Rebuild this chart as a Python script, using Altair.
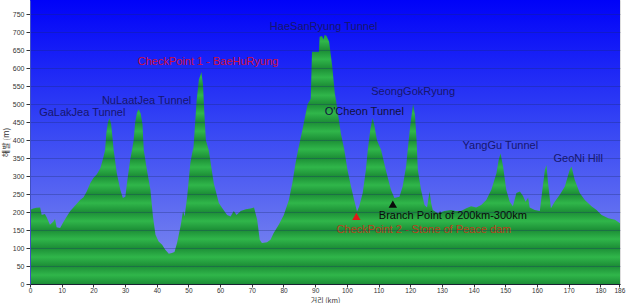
import altair as alt
import pandas as pd

# Elevation profile: distance (km) and height above sea level (m)
km = [0, 1.0, 2.0, 3.2, 3.7, 4.7, 5.3, 6.3, 7.4, 7.9, 8.4, 9.5, 10.5, 11.6, 12.7, 13.7,
      15.8, 16.9, 17.9, 19.0, 20.0, 21.1, 22.2, 23.2, 23.7, 24.1, 24.6, 25.1, 25.6, 26.0,
      26.4, 27.4, 28.5, 29.3, 30.1, 30.6, 31.6, 32.2, 32.7, 33.2, 33.8, 34.3, 34.9, 35.5,
      35.9, 36.9, 38.0, 38.8, 39.6, 40.6, 41.7, 42.7, 43.8, 44.8, 45.6, 46.4, 47.5, 48.3,
      48.8, 49.6, 50.6, 51.2, 51.6, 52.6, 53.3, 54.1, 54.6, 55.0, 55.5, 56.4, 58.0, 59.6,
      60.7, 62.2, 63.3, 64.3, 65.2, 66.5, 68.1, 69.6, 70.7, 71.7, 72.5, 73.2, 74.8, 75.9,
      76.9, 78.5, 80.1, 81.7, 82.8, 83.8, 84.6, 86.0, 87.6, 88.6, 89.0, 91.2, 91.4, 92.2,
      92.6, 93.0, 93.6, 94.4, 94.9, 95.4, 96.2, 96.5, 98.1, 99.2, 100.2, 101.3, 102.3,
      103.2, 103.9, 105.0, 106.0, 106.6, 107.4, 108.1, 108.6, 109.5, 110.8, 112.3, 113.9,
      115.0, 116.6, 117.6, 118.7, 119.2, 120.0, 120.9, 121.5, 122.0, 122.4, 123.4, 124.5,
      125.3, 126.1, 126.6, 127.1, 128.7, 130.8, 132.9, 134.4, 136.0, 137.7, 139.2, 140.8,
      142.4, 144.0, 145.6, 147.2, 147.9, 148.5, 149.3, 150.3, 151.4, 152.4, 153.5, 154.6,
      155.6, 156.4, 157.2, 157.7, 159.3, 160.9, 161.7, 162.5, 163.0, 163.5, 164.4, 165.6,
      167.2, 168.8, 170.3, 170.9, 171.9, 173.5, 175.1, 177.2, 178.8, 180.4, 182.5, 184.6,
      186.2]
elev = [206, 210, 212, 213, 192, 195, 185, 165, 174, 181, 158, 156, 172, 188, 203, 213,
        234, 241, 257, 280, 295, 305, 322, 354, 373, 420, 450, 461, 445, 410,
        373, 308, 262, 239, 243, 280, 345, 373, 400, 450, 478, 486, 475, 445,
        373, 317, 262, 188, 137, 118, 109, 95, 84, 86, 89, 114, 160, 203,
        188, 243, 336, 365, 380, 512, 568, 590, 555, 480, 400, 373, 280, 225,
        211, 192, 188, 203, 192, 203, 208, 210, 213, 179, 123, 114, 116, 123,
        142, 165, 192, 234, 281, 336, 373, 430, 500, 515, 646, 646, 688, 690,
        680, 693, 690, 674, 640, 604, 530, 515, 419, 373, 317, 271, 234,
        202, 216, 253, 317, 373, 430, 462, 445, 400, 373, 317, 262,
        239, 243, 271, 327, 373, 440, 501, 470, 400, 317, 262, 220,
        213, 257, 225, 206, 197, 203, 206, 203, 203, 211, 216, 213,
        220, 234, 262, 308, 345, 364, 327, 262, 229, 216, 253, 257,
        245, 229, 240, 213, 206, 203, 262, 317, 331, 280, 211, 229,
        248, 271, 317, 327, 290, 253, 234, 216, 206, 192, 183, 179,
        169]

# Axis ticks
x_ticks = [0, 10, 20, 30, 40, 50, 60, 70, 80, 90, 100, 110, 120, 130, 140, 150,
           160, 170, 180, 186]
y_ticks = [0, 50, 100, 150, 200, 250, 300, 350, 400, 450, 500, 550, 600, 650, 700, 750]

# Place-name annotations
label_text = ["GaLakJea Tunnel", "NuLaatJea Tunnel", "CheckPoint 1 - BaeHuRyung",
              "HaeSanRyung Tunnel", "O'Cheon Tunnel", "SeongGokRyung",
              "YangGu Tunnel", "GeoNi Hill", "Branch Point of 200km-300km",
              "CheckPoint 2 - Stone of Peace dam"]
label_km = [2.9, 22.7, 34.0, 75.7, 93.0, 107.7, 136.5, 165.2, 110.1, 96.7]
label_m = [475, 509, 617, 714, 479, 535, 384, 347, 190, 150]
label_color = ["#16166e", "#16166e", "#d0103a", "#16166e", "#101040", "#16166e",
               "#16166e", "#16166e", "#0a0a0a", "#b8401c"]

# Point markers
marker_km = [103.0, 114.5]
marker_m = [188, 222]
marker_color = ["#e01818", "#0a0a0a"]

W, H = 590, 284
XMAX, YMAX = 186.2, 790

profile = pd.DataFrame({"km": km, "elev": elev})
labels = pd.DataFrame({"text": label_text, "km": label_km, "m": label_m, "c": label_color})
markers = pd.DataFrame({"km": marker_km, "m": marker_m, "c": marker_color})

xs = alt.Scale(domain=[0, XMAX], nice=False, zero=False)
ys = alt.Scale(domain=[0, YMAX], nice=False)

# Sky gradient behind the plot
sky = alt.Gradient(
    gradient="linear", x1=0, x2=0, y1=0, y2=1,
    stops=[alt.GradientStop(offset=0, color="#0002f8"),
           alt.GradientStop(offset=0.45, color="#3646f4"),
           alt.GradientStop(offset=1, color="#8490ee")])
bg = alt.Chart(pd.DataFrame({"a": [0]})).mark_rect(color=sky).encode(
    x=alt.value(0), x2=alt.value(W), y=alt.value(0), y2=alt.value(H))

# Banded green fill: darker at each 50 m level, lighter between
DARK = (0x1c, 0x8e, 0x36)
LIGHT = (0x30, 0xb6, 0x4a)
vmax = max(elev)


def band_color(level):
    ph = (level % 50) / 50.0
    w = 1 - abs(ph - 0.5) * 2  # 0 at gridline, 1 mid-band
    c = [round(d + (l - d) * w) for d, l in zip(DARK, LIGHT)]
    return "#%02x%02x%02x" % tuple(c)


levels = [vmax] + [lv for lv in range(int(vmax // 25) * 25, -1, -25) if lv < vmax]
stops = [alt.GradientStop(offset=(vmax - lv) / vmax, color=band_color(lv)) for lv in levels]
green = alt.Gradient(gradient="linear", x1=0, x2=0, y1=0, y2=1, stops=stops)

x_axis = alt.Axis(values=x_ticks, title="거리 (km)", labelFontSize=6.5,
                  labelColor="#333333", labelFont="Liberation Sans",
                  tickSize=3, tickColor="#333333", domainColor="#1a1a1a",
                  labelPadding=0, titleFont="Noto Sans CJK KR", titleFontSize=7,
                  titleFontWeight="normal", titleColor="#333333",
                  titleBaseline="bottom", titleY=19,
                  grid=False, labelFlush=False, labelOverlap=False)
y_axis = alt.Axis(values=y_ticks, title="해발 (m)", labelFontSize=7,
                  labelColor="#333333", labelFont="Liberation Sans",
                  tickSize=4, tickColor="#333333", domainColor="#4050c0",
                  labelPadding=2, titleFont="Noto Sans CJK KR", titleFontSize=8,
                  titleFontWeight="normal", titleColor="#333333",
                  titlePadding=2, grid=True, gridColor="#1c2a66",
                  gridOpacity=0.3, gridWidth=1, zindex=1, labelOverlap=False)

area = alt.Chart(profile).mark_area(color=green, interpolate="linear").encode(
    x=alt.X("km:Q", scale=xs, axis=x_axis),
    y=alt.Y("elev:Q", scale=ys, axis=y_axis),
)

text = alt.Chart(labels).mark_text(
    align="left", baseline="middle", font="Liberation Sans", fontSize=11).encode(
    x=alt.X("km:Q", scale=xs, axis=x_axis), y=alt.Y("m:Q", scale=ys, axis=y_axis),
    text="text:N", color=alt.Color("c:N", scale=None))

pts = alt.Chart(markers).mark_point(shape="triangle-up", filled=True, size=70, opacity=1).encode(
    x=alt.X("km:Q", scale=xs, axis=x_axis), y=alt.Y("m:Q", scale=ys, axis=y_axis),
    color=alt.Color("c:N", scale=None))

chart = alt.layer(bg, area, text, pts).properties(
    width=W, height=H,
    autosize=alt.AutoSizeParams(type="none"),
    padding={"left": 30, "top": 0, "right": 7, "bottom": 19},
).configure_view(stroke=None).configure(background="white")

chart.save("out.html", embed_options={"renderer": "svg", "actions": False})
